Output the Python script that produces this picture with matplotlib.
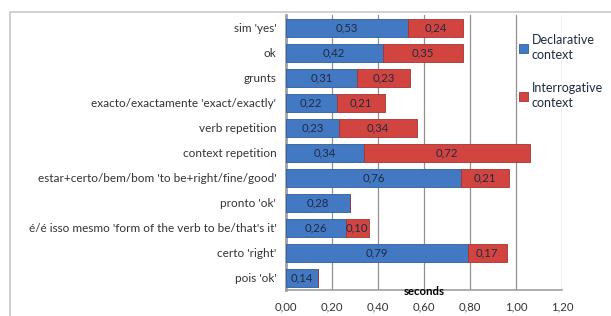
import matplotlib.pyplot as plt
import numpy as np
from matplotlib.patches import Rectangle

plt.rcParams['font.family'] = ['Lato', 'DejaVu Sans']

# data, top to bottom
categories = ["sim 'yes'", "ok", "grunts", "exacto/exactamente 'exact/exactly'",
              "verb repetition", "context repetition",
              "estar+certo/bem/bom 'to be+right/fine/good'", "pronto 'ok'",
              "é/é isso mesmo 'form of the verb to be/that's it'",
              "certo 'right'", "pois 'ok'"]
declarative = [0.53, 0.42, 0.31, 0.22, 0.23, 0.34, 0.76, 0.28, 0.26, 0.79, 0.14]
interrogative = [0.24, 0.35, 0.23, 0.21, 0.34, 0.72, 0.21, 0.0, 0.10, 0.17, 0.0]
xticks = [0.0, 0.2, 0.4, 0.6, 0.8, 1.0, 1.2]

BLUE = '#4379C2'
RED = '#D24440'

fig = plt.figure(figsize=(6.11, 3.16), dpi=100)
# outer chart frame
fig.patches.append(Rectangle((10/611, -0.05), 1.0, 1 - 12/316 + 0.05, transform=fig.transFigure,
                             fill=False, edgecolor='#C8C8C8', linewidth=1.2))

ax = fig.add_axes([286/611, 1 - 290/316, 276/611, 275/316])
y = np.arange(len(categories))
h = 0.72
ax.barh(y, declarative, height=h, color=BLUE, edgecolor='#2F5D99', linewidth=0.6,
        label='Declarative\ncontext', zorder=3)
ax.barh(y, interrogative, height=h, left=declarative, color=RED, edgecolor='#A33532',
        linewidth=0.6, label='Interrogative\ncontext', zorder=3)

for i in range(len(categories)):
    ax.text(declarative[i] / 2, y[i], ('%.2f' % declarative[i]).replace('.', ','),
            ha='center', va='center', fontsize=8.2, color='#1F2A44', zorder=4)
    if interrogative[i] > 0:
        ax.text(declarative[i] + interrogative[i] / 2, y[i],
                ('%.2f' % interrogative[i]).replace('.', ','),
                ha='center', va='center', fontsize=8.2, color='#1F2A44', zorder=4)

ax.set_ylim(len(categories) - 0.5, -0.5)
ax.set_xlim(0, 1.2)
ax.set_yticks(y)
ax.set_yticklabels(categories, fontsize=8.5, color='#333333')
ax.set_xticks(xticks)
ax.set_xticklabels([('%.2f' % v).replace('.', ',') for v in xticks], fontsize=8.2, color='#333333')
ax.tick_params(axis='y', length=0, pad=7)
ax.tick_params(axis='x', length=0, pad=8)

ax.grid(axis='x', color='#909090', linewidth=0.9, zorder=0)
for s in ['top', 'right']:
    ax.spines[s].set_visible(False)
ax.spines['left'].set_color('#A0A0A0')
ax.spines['left'].set_linewidth(2.0)
ax.spines['bottom'].set_color('#A0A0A0')
ax.spines['bottom'].set_linewidth(1.2)

ax.text(0.6, -0.006, 'seconds', transform=ax.get_xaxis_transform(), fontsize=8.2,
        fontweight='bold', ha='center', va='center', zorder=5)

leg = ax.legend(loc='upper left', bbox_to_anchor=(514/611, 1 - 29/316), bbox_transform=fig.transFigure,
                frameon=False, fontsize=9, handlelength=0.7, handleheight=0.7,
                handletextpad=0.3, labelspacing=1.7, borderaxespad=0)
for t in leg.get_texts():
    t.set_color('#1F2A44')
    t.set_linespacing(1.3)

fig.savefig('out.png', dpi=100)
